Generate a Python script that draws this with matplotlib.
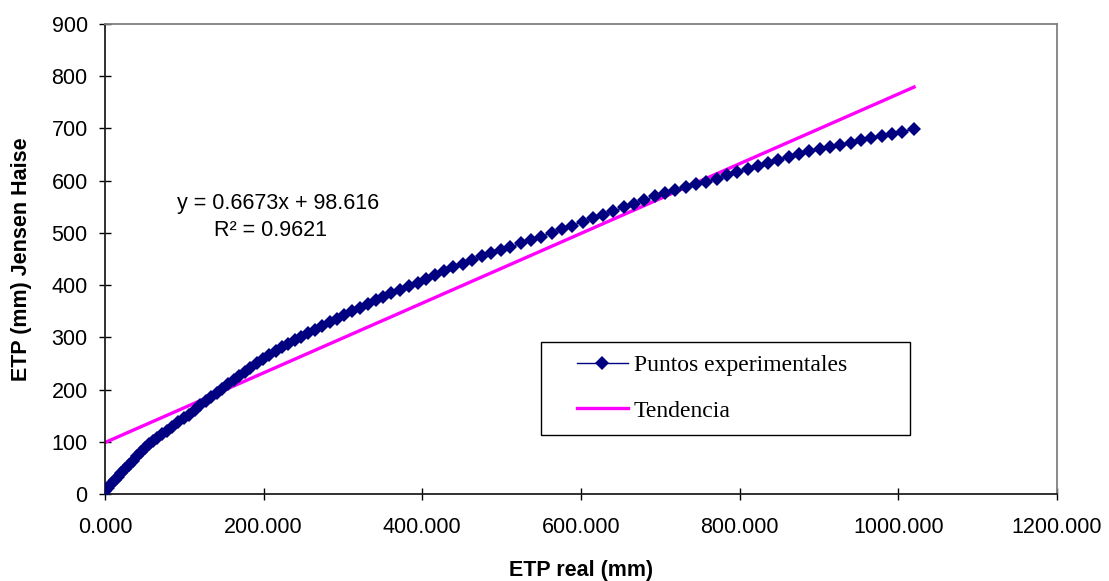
import matplotlib.pyplot as plt
from matplotlib.patches import Rectangle
from matplotlib.ticker import FixedLocator, FuncFormatter

# ETP real (mm) vs ETP estimated with Jensen-Haise (mm)
etp_real = [0, 4, 8, 12, 16, 20, 25, 30, 35, 40, 45, 50, 55, 60, 66, 72, 78, 85,
            92, 99, 106, 113, 120, 127, 134, 141, 148, 155, 162, 169, 176, 183,
            191, 199, 207, 215, 223, 231, 239, 247, 256, 265, 274, 283, 292, 301,
            311, 321, 331, 341, 351, 361, 372, 383, 394, 405, 416, 427, 439, 451,
            463, 475, 487, 499, 511, 524, 537, 550, 563, 576, 589, 602, 615, 628,
            641, 654, 667, 680, 693, 706, 719, 732, 745, 758, 771, 784, 797, 810,
            823, 836, 849, 862, 875, 888, 901, 914, 927, 940, 953, 966, 979, 992,
            1005, 1020]
etp_jensen = [5, 12, 19, 26, 33, 40, 48, 56, 64, 72, 80, 88, 95, 101, 108, 114,
              121, 128, 137, 145, 152, 161, 170, 178, 186, 194, 202, 210, 218, 226,
              234, 242, 250, 258, 266, 274, 281, 288, 295, 301, 308, 315, 322, 329,
              336, 343, 350, 357, 364, 371, 378, 384, 391, 398, 405, 412, 420, 427,
              434, 441, 448, 455, 461, 467, 473, 480, 487, 493, 500, 507, 514, 521,
              528, 535, 542, 549, 556, 563, 570, 576, 582, 588, 593, 598, 604, 610,
              616, 622, 628, 634, 640, 646, 651, 656, 661, 665, 669, 673, 677, 682,
              686, 690, 694, 699]

slope = 0.6673
intercept = 98.616
r_squared = 0.9621

x_ticks = [0, 200, 400, 600, 800, 1000, 1200]
y_ticks = [0, 100, 200, 300, 400, 500, 600, 700, 800, 900]

plt.rcParams['font.family'] = ['Liberation Sans', 'DejaVu Sans']

fig = plt.figure(figsize=(11.09, 5.81), dpi=100)
ax = fig.add_axes([0.0947, 0.1497, 0.8583, 0.8090])

ax.plot(etp_real, etp_jensen, color='#000080', linewidth=1, marker='D',
        markersize=7, markeredgewidth=0, label='Puntos experimentales',
        zorder=3)

trend_x = [0, max(etp_real)]
trend_y = [slope * v + intercept for v in trend_x]
ax.plot(trend_x, trend_y, color='#FF00FF', linewidth=2.4, label='Tendencia',
        zorder=2)

ax.set_xlim(0, 1200)
ax.set_ylim(0, 900)
ax.xaxis.set_major_locator(FixedLocator(x_ticks))
ax.yaxis.set_major_locator(FixedLocator(y_ticks))
ax.xaxis.set_major_formatter(FuncFormatter(lambda v, p: f'{v:.3f}'))
ax.yaxis.set_major_formatter(FuncFormatter(lambda v, p: f'{v:.0f}'))
ax.tick_params(direction='inout', length=9, width=1, labelsize=15.5,
               colors='black')
ax.tick_params(axis='x', pad=12)
ax.tick_params(axis='y', pad=8)

for side in ('left', 'bottom'):
    ax.spines[side].set_color('#202020')
    ax.spines[side].set_linewidth(1.3)
for side in ('top', 'right'):
    ax.spines[side].set_color('#808080')
    ax.spines[side].set_linewidth(1.3)

ax.set_xlabel('ETP real (mm)', fontsize=15.5, fontweight='bold', labelpad=16)
ax.set_ylabel('ETP (mm) Jensen Haise', fontsize=15.5, fontweight='bold',
              labelpad=14)

# regression equation
ax.text(218, 557, f'y = {slope}x + {intercept}', fontsize=15.5,
        ha='center', va='center')
ax.text(208, 505, f'R² = {r_squared}', fontsize=15.5, ha='center',
        va='center')

# legend frame drawn separately so it can be wider than the entries
ax.add_patch(Rectangle((0.458, 0.1255), 0.3876, 0.198, transform=ax.transAxes,
                       facecolor='white', edgecolor='black', linewidth=1,
                       zorder=4))
leg = ax.legend(loc='upper left', bbox_to_anchor=(0.4958, 0.296),
                prop={'family': 'Liberation Serif', 'size': 17},
                frameon=False, handlelength=2.15, handletextpad=0.25,
                borderpad=0, labelspacing=1.0, numpoints=1, borderaxespad=0)
leg.set_zorder(5)
for h in leg.legend_handles:
    h.set_markersize(7)

fig.savefig('out.png', dpi=100)
